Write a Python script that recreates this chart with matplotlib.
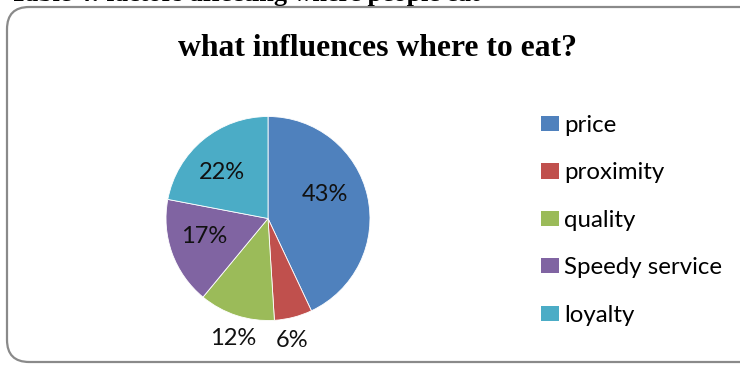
import matplotlib
matplotlib.use("Agg")
import matplotlib.pyplot as plt
from matplotlib.patches import FancyBboxPatch, Patch
import numpy as np

# Survey shares: what influences where people choose to eat
categories = ["price", "proximity", "quality", "Speedy service", "loyalty"]
shares = [43, 6, 12, 17, 22]
colors = ["#4F81BD", "#C0504D", "#9BBB59", "#8064A2", "#4BACC6"]

# data-label placement: radius (fraction of pie radius) and angular nudge (deg)
label_radius = [0.60, 1.22, 1.225, 0.65, 0.64]
label_nudge = [10.0, -3.3, 1.7, -3.7, 5.0]

title = "what influences where to eat?"
caption = "Table 4: factors affecting where people eat"

W, H = 740, 365
fig = plt.figure(figsize=(W / 100, H / 100), dpi=100)
fig.patch.set_facecolor("white")

# caption of the surrounding document, mostly above the top edge
fig.text(480 / W, 1 - 1.2 / H, caption, ha="right", va="baseline",
         family="Liberation Serif", weight="bold", fontsize=18.8)

# rounded chart-area frame
frame = FancyBboxPatch((7 / W, 3 / H), (W + 20) / W, (H - 10) / H,
                       boxstyle="round,pad=0,rounding_size=0.03",
                       transform=fig.transFigure, facecolor="none",
                       edgecolor="#8a8a8a", linewidth=1.6, mutation_aspect=W / H)
fig.patches.append(frame)

fig.text(378 / W, 1 - 56 / H, title, ha="center", va="baseline",
         family="Liberation Serif", weight="bold", fontsize=22.8)

# pie
cx, cy, r = 268, 218.5, 102
ax = fig.add_axes([(cx - r) / W, (H - cy - r) / H, 2 * r / W, 2 * r / H])
wedges, _ = ax.pie(shares, colors=colors, startangle=90, counterclock=False,
                   radius=1.0, wedgeprops=dict(edgecolor="white", linewidth=0.6))
ax.set_xlim(-1, 1)
ax.set_ylim(-1, 1)
ax.set_aspect("equal")
ax.axis("off")

for w, v, d, nudge in zip(wedges, shares, label_radius, label_nudge):
    ang = np.deg2rad((w.theta1 + w.theta2) / 2 + nudge)
    ax.text(d * np.cos(ang), d * np.sin(ang), f"{v}%", ha="center", va="center",
            family="Lato", fontsize=17, color="#111111")

handles = [Patch(facecolor=c, edgecolor="none") for c in colors]
leg = fig.legend(handles, categories, loc="upper left",
                 bbox_to_anchor=(541 / W, 1 - 115 / H), frameon=False,
                 prop=dict(family="Lato", size=17.3),
                 handlelength=0.75, handleheight=0.6, handletextpad=0.2,
                 labelspacing=1.1, borderpad=0, borderaxespad=0)

fig.savefig("out.png", dpi=100)
